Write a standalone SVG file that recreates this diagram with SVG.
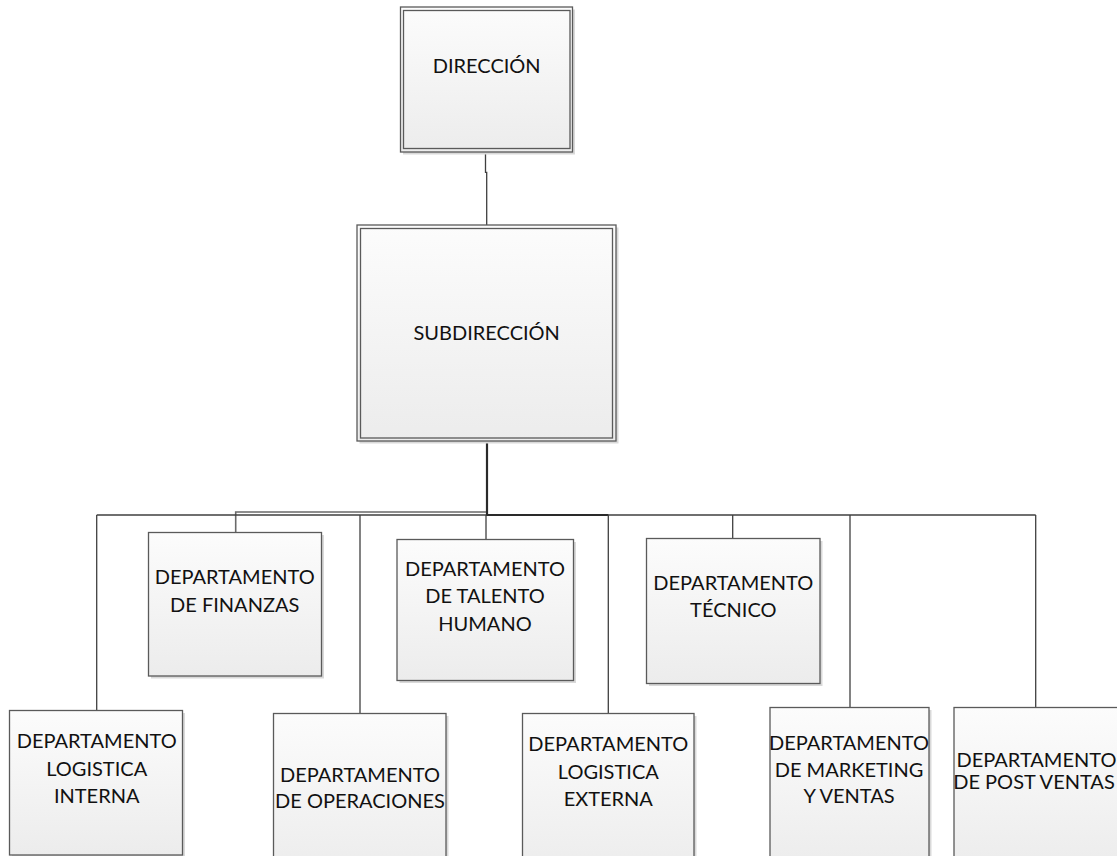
<svg xmlns="http://www.w3.org/2000/svg" width="1117" height="856" viewBox="0 0 1117 856">
  <defs>
    <linearGradient id="boxFill" x1="0" y1="0" x2="0" y2="1">
      <stop offset="0" stop-color="#fcfcfc"/>
      <stop offset="1" stop-color="#ececec"/>
    </linearGradient>
    <style>
      .shadow { fill: #d9d9d9; }
      .box { fill: url(#boxFill); stroke: #5a5a5a; stroke-width: 1.3; }
      .inner { fill: none; stroke: #5a5a5a; stroke-width: 1.3; }
      .wire { fill: none; stroke: #3f3f3f; stroke-width: 1.3; }
      .wire-bold { fill: none; stroke: #2a2a2a; stroke-width: 2.2; }
      .wire-light { fill: none; stroke: #6a6a6a; stroke-width: 1.6; }
      .label { font-family: Lato, "Open Sans", "Liberation Sans", sans-serif; font-size: 20px; fill: #111; text-anchor: middle; }
    </style>
  </defs>

  <rect width="1117" height="856" fill="#ffffff"/>

  <!-- connectors -->
  <g id="connectors">
    <path class="wire" d="M485.5 152 V172.3 H486.7 V225"/>
    <path class="wire-bold" d="M487 441 V515"/>
    <path class="wire-light" d="M486 512 H235.7 V532.5"/>
    <path class="wire" d="M96.7 515 H1035.7"/>
    <path class="wire-bold" d="M486 515 H608.3"/>
    <path class="wire" d="M96.7 515 V710.5"/>
    <path class="wire" d="M360 515 V713.5"/>
    <path class="wire" d="M486 515 V539.5"/>
    <path class="wire" d="M608.3 515 V713.5"/>
    <path class="wire" d="M732.7 515 V538.5"/>
    <path class="wire" d="M850 515 V707.5"/>
    <path class="wire" d="M1035.7 515 V707.5"/>
  </g>

  <!-- top level -->
  <g id="direccion">
    <rect class="shadow" x="403" y="9.5" width="172" height="145"/>
    <rect class="box" x="400.5" y="7" width="172" height="145"/>
    <rect class="inner" x="403.5" y="10.5" width="166.5" height="138"/>
    <text class="label" x="486.7" y="72.5">DIRECCIÓN</text>
  </g>

  <g id="subdireccion">
    <rect class="shadow" x="359.5" y="227.5" width="259" height="216"/>
    <rect class="box" x="357" y="225" width="259" height="216"/>
    <rect class="inner" x="360.5" y="228.5" width="252" height="209.5"/>
    <text class="label" x="486.7" y="340">SUBDIRECCIÓN</text>
  </g>

  <!-- upper row of departments -->
  <g id="finanzas">
    <rect class="shadow" x="151" y="535" width="173" height="143.5"/>
    <rect class="box" x="148.5" y="532.5" width="173" height="143.5"/>
    <text class="label" x="234.7" y="584">DEPARTAMENTO</text>
    <text class="label" x="234.7" y="611.5">DE FINANZAS</text>
  </g>

  <g id="talento-humano">
    <rect class="shadow" x="399.5" y="542" width="176.5" height="141"/>
    <rect class="box" x="397" y="539.5" width="176.5" height="141"/>
    <text class="label" x="485" y="576">DEPARTAMENTO</text>
    <text class="label" x="485" y="603.3">DE TALENTO</text>
    <text class="label" x="485" y="630.7">HUMANO</text>
  </g>

  <g id="tecnico">
    <rect class="shadow" x="649" y="541" width="173.5" height="145"/>
    <rect class="box" x="646.5" y="538.5" width="173.5" height="145"/>
    <text class="label" x="733.3" y="590">DEPARTAMENTO</text>
    <text class="label" x="733.3" y="616.7">TÉCNICO</text>
  </g>

  <!-- lower row of departments -->
  <g id="logistica-interna">
    <rect class="shadow" x="12" y="713" width="173" height="144.5"/>
    <rect class="box" x="9.5" y="710.5" width="173" height="144.5"/>
    <text class="label" x="96.7" y="748.3">DEPARTAMENTO</text>
    <text class="label" x="96.7" y="776">LOGISTICA</text>
    <text class="label" x="96.7" y="803.3">INTERNA</text>
  </g>

  <g id="operaciones">
    <rect class="shadow" x="276" y="716" width="172.5" height="160"/>
    <rect class="box" x="273.5" y="713.5" width="172.5" height="160"/>
    <text class="label" x="360" y="781.7">DEPARTAMENTO</text>
    <text class="label" x="360" y="808.3">DE OPERACIONES</text>
  </g>

  <g id="logistica-externa">
    <rect class="shadow" x="525" y="716" width="171.5" height="160"/>
    <rect class="box" x="522.5" y="713.5" width="171.5" height="160"/>
    <text class="label" x="608.3" y="751">DEPARTAMENTO</text>
    <text class="label" x="608.3" y="779.3">LOGISTICA</text>
    <text class="label" x="608.3" y="806">EXTERNA</text>
  </g>

  <g id="marketing-ventas">
    <rect class="shadow" x="772.5" y="710" width="159" height="160"/>
    <rect class="box" x="770" y="707.5" width="159" height="160"/>
    <text class="label" x="849" y="750">DEPARTAMENTO</text>
    <text class="label" x="849" y="777.3">DE MARKETING</text>
    <text class="label" x="849" y="803.3">Y VENTAS</text>
  </g>

  <g id="post-ventas">
    <rect class="shadow" x="956.5" y="710" width="170" height="160"/>
    <rect class="box" x="954" y="707.5" width="170" height="160"/>
    <text class="label" x="1036.5" y="766.7">DEPARTAMENTO</text>
    <text class="label" x="1034" y="789.3">DE POST VENTAS</text>
  </g>
</svg>
